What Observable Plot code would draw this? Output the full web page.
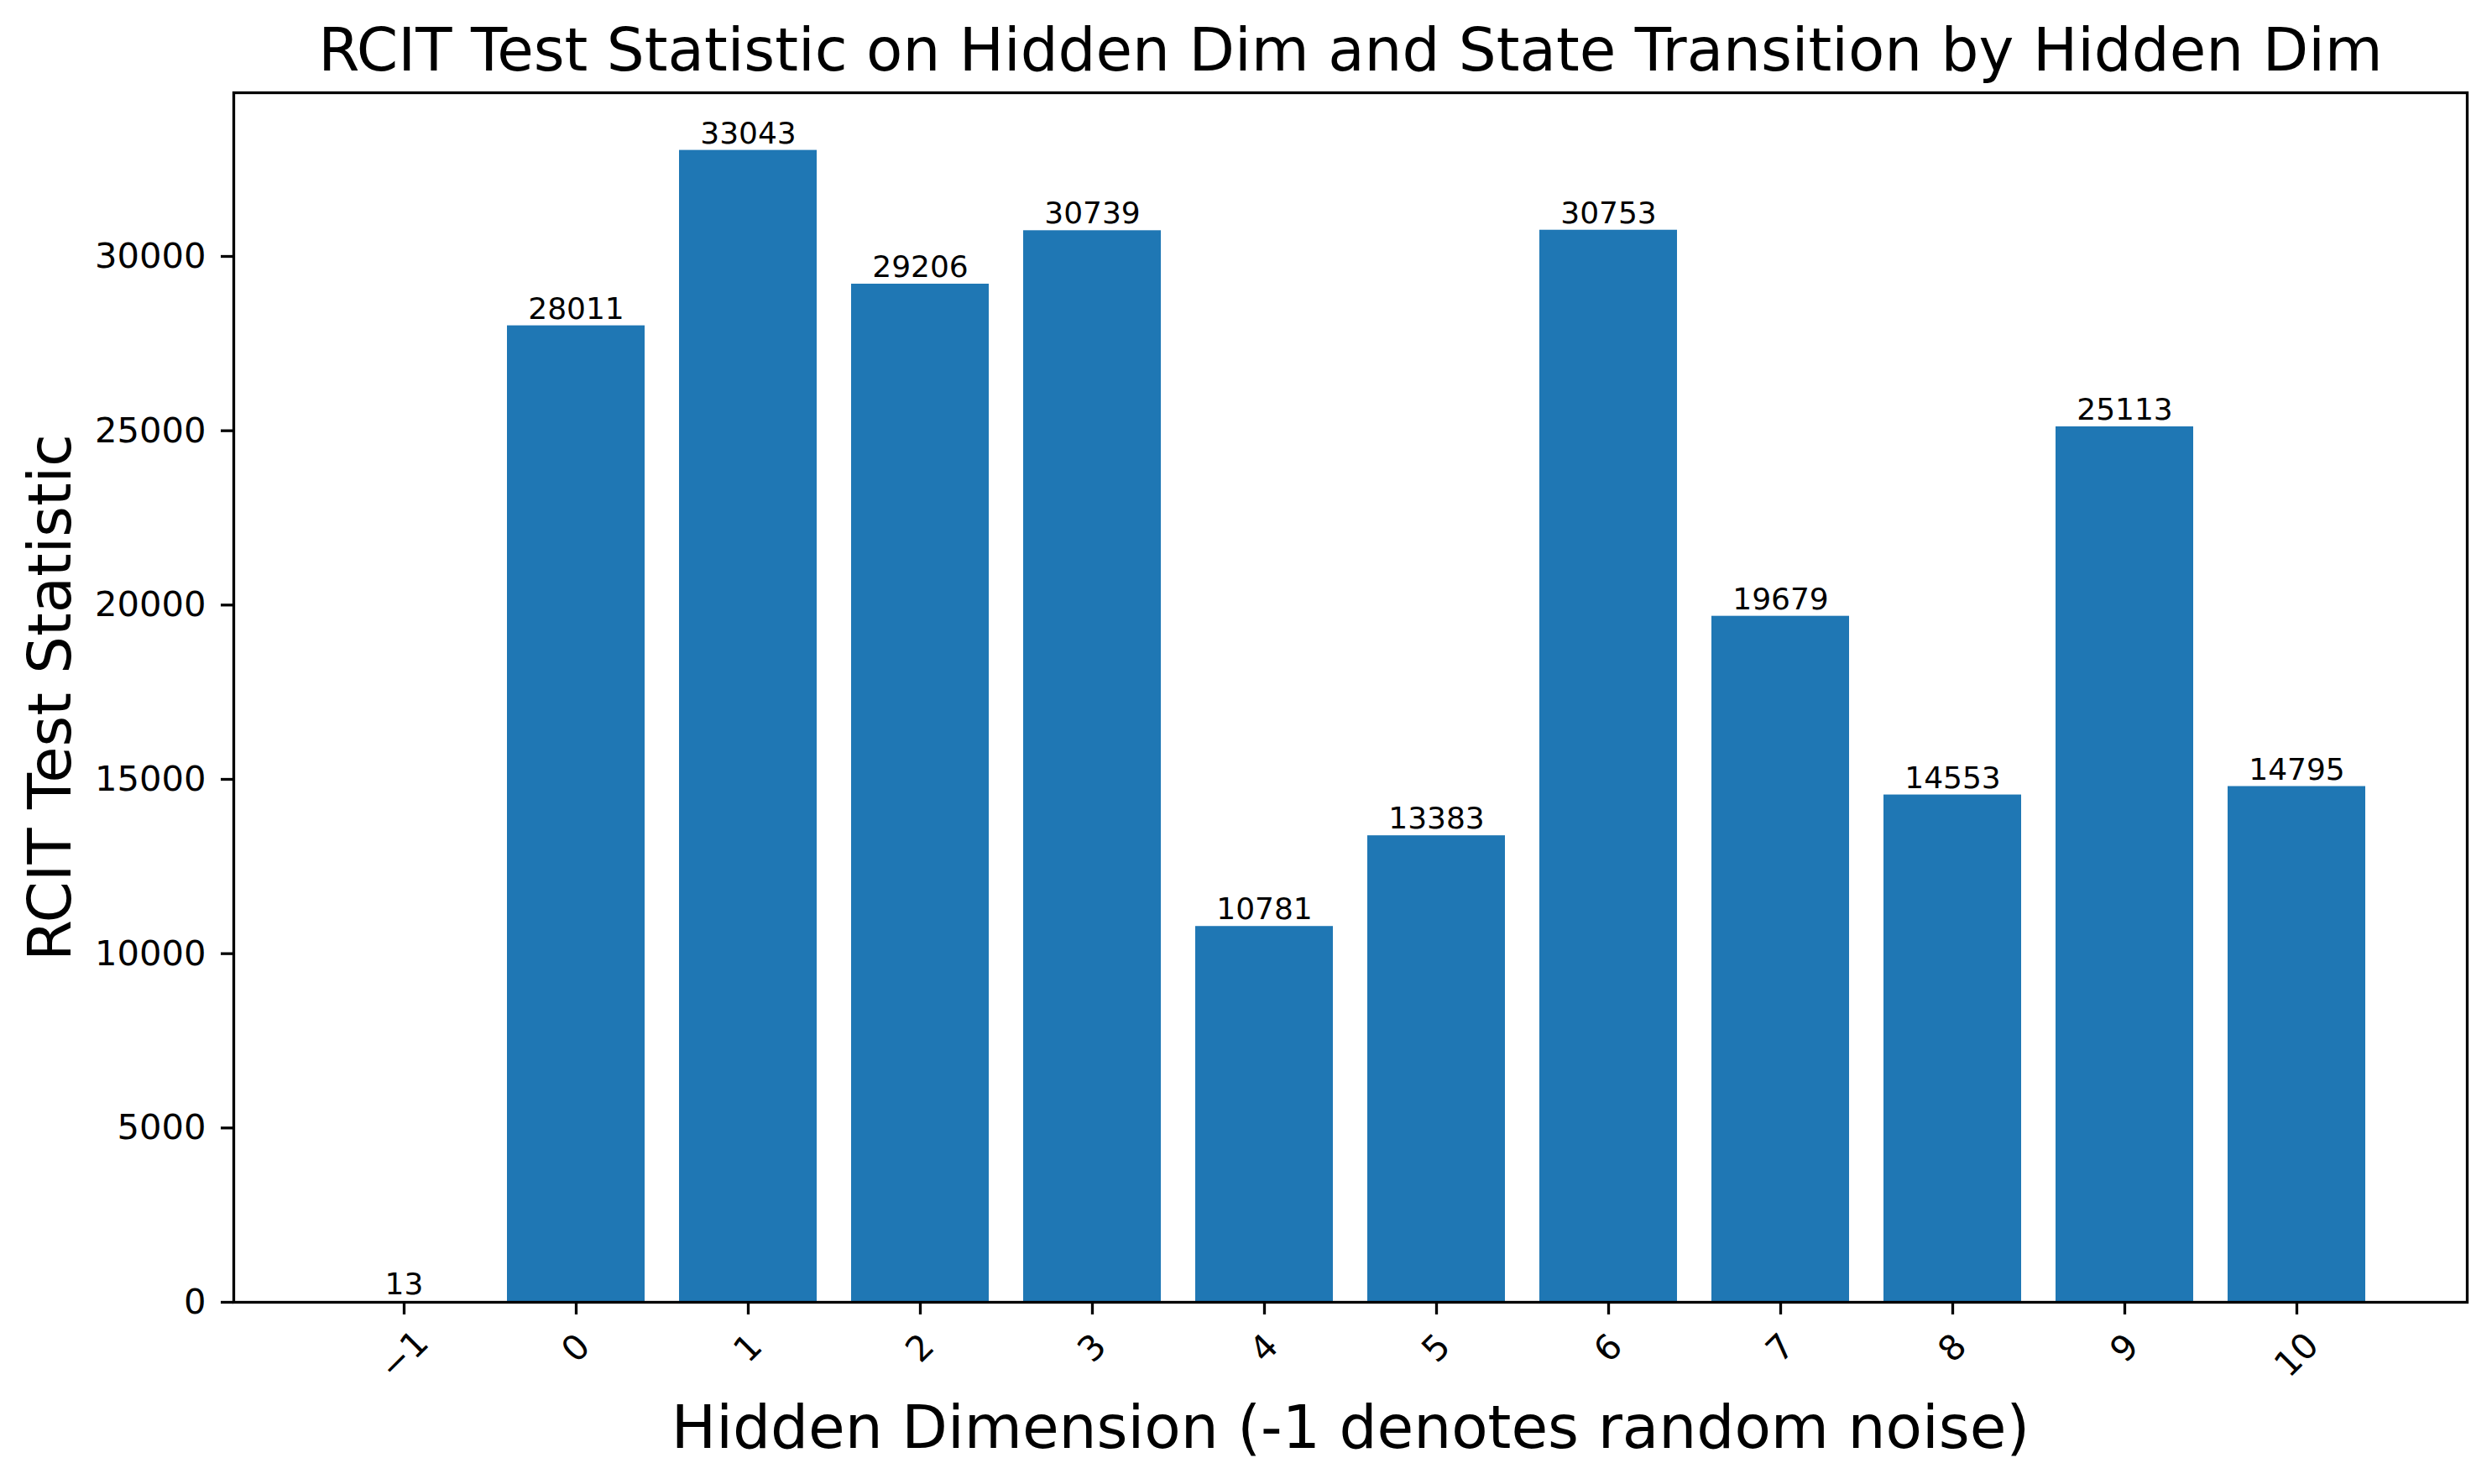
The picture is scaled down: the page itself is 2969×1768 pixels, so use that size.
<!DOCTYPE html>
<html>
<head>
<meta charset="utf-8">
<script src="https://cdn.jsdelivr.net/npm/d3@7"></script>
<script src="https://cdn.jsdelivr.net/npm/@observablehq/plot@0.6"></script>
<style>
  html, body { margin: 0; padding: 0; background: white; }
</style>
</head>
<body>
<div id="chart"></div>
<script>
const dims = [-1, 0, 1, 2, 3, 4, 5, 6, 7, 8, 9, 10];
const values = [13, 28011, 33043, 29206, 30739, 10781, 13383, 30753, 19679, 14553, 25113, 14795];
const yTicks = [0, 5000, 10000, 15000, 20000, 25000, 30000];
const titleText = "RCIT Test Statistic on Hidden Dim and State Transition by Hidden Dim";
const xLabel = "Hidden Dimension (-1 denotes random noise)";
const yLabel = "RCIT Test Statistic";

const data = dims.map((d, i) => ({dim: d, value: values[i]}));
const fmtDim = d => d < 0 ? "\u2212" + Math.abs(d) : String(d);
const short = dims.filter(d => fmtDim(d).length === 1);
const long = dims.filter(d => fmtDim(d).length > 1);

const chart = Plot.plot({
  width: 2969,
  height: 1768,
  marginLeft: 278,
  marginRight: 30,
  marginTop: 110,
  marginBottom: 217,
  style: {fontFamily: "DejaVu Sans", fontSize: "41.7px", background: "white", color: "black"},
  x: {type: "band", domain: dims, paddingInner: 0.2, paddingOuter: 0.59, axis: null},
  y: {domain: [0, 34695], axis: null},
  marks: [
    Plot.barY(data, {x: "dim", y: "value", fill: "#1f77b4"}),
    Plot.text(data, {x: "dim", y: "value", text: d => String(d.value), lineAnchor: "bottom", dy: -8.5, fontSize: 36, fill: "black"}),
    Plot.axisY({ticks: yTicks, tickSize: 15, tickPadding: 18, strokeWidth: 3.3, tickFormat: d => String(d), label: null, fontSize: 41.7}),
    Plot.axisX({tickSize: 15, strokeWidth: 3.3, tickFormat: () => "", label: null}),
    Plot.text(short, {x: d => d, text: fmtDim, frameAnchor: "bottom", dy: 55, rotate: -45, textAnchor: "middle", lineAnchor: "middle", fontSize: 41.7}),
    Plot.text(long, {x: d => d, text: fmtDim, frameAnchor: "bottom", dy: 63, rotate: -45, textAnchor: "middle", lineAnchor: "middle", fontSize: 41.7}),
    Plot.text([titleText], {text: d => d, frameAnchor: "top", lineAnchor: "bottom", dy: -27, fontSize: 70.8}),
    Plot.text([xLabel], {text: d => d, frameAnchor: "bottom", lineAnchor: "bottom", dy: 173, fontSize: 71}),
    Plot.text([yLabel], {text: d => d, frameAnchor: "left", lineAnchor: "bottom", dx: -195, rotate: -90, textAnchor: "middle", fontSize: 70.5}),
    Plot.frame({stroke: "black", strokeWidth: 3.3})
  ]
});
document.getElementById("chart").appendChild(chart);
</script>
</body>
</html>
